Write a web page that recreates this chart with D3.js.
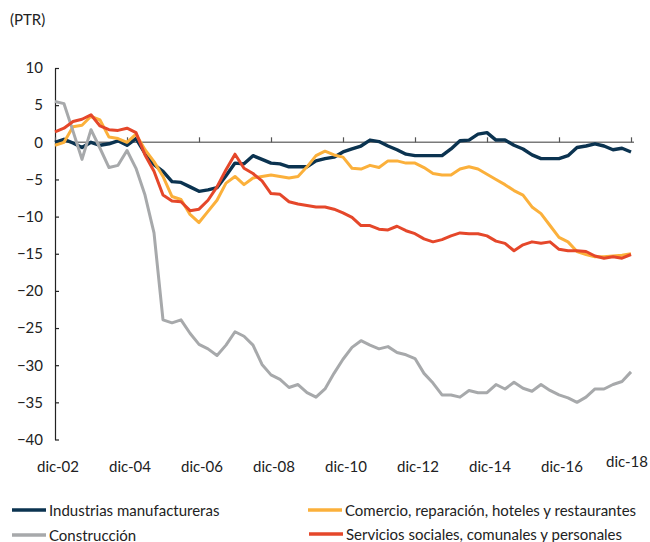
<!DOCTYPE html>
<html lang="es">
<head>
<meta charset="utf-8">
<script src="https://cdn.jsdelivr.net/npm/d3@7"></script>
<style>
  html, body { margin: 0; padding: 0; background: #fff; }
  svg { display: block; font-family: "Lato", "Open Sans", sans-serif; }
</style>
</head>
<body>
<svg id="chart" width="650" height="542"></svg>
<script>
// Quarterly series, dic-02 .. dic-18 (65 quarters)
const industrias = [0.0, 0.4, -0.1, -0.7, 0.0, -0.4, -0.2, 0.2, -0.4, 0.5,
  -1.5, -3.0, -3.9, -5.3, -5.4, -6.0, -6.6, -6.4, -6.1, -4.5,
  -2.8, -2.9, -1.8, -2.3, -2.8, -2.9, -3.3, -3.3, -3.3, -2.5,
  -2.2, -2.0, -1.3, -0.9, -0.5, 0.3, 0.1, -0.5, -1.0, -1.6,
  -1.8, -1.8, -1.8, -1.8, -0.9, 0.2, 0.3, 1.1, 1.3, 0.3,
  0.3, -0.4, -0.9, -1.7, -2.2, -2.2, -2.2, -1.8, -0.7, -0.5,
  -0.2, -0.5, -1.0, -0.8, -1.3];
const comercio = [-0.4, 0.0, 2.1, 2.3, 3.5, 3.0, 0.7, 0.5, 0.0, 1.1,
  -1.0, -2.6, -4.6, -7.3, -7.7, -9.7, -10.8, -9.3, -7.8, -5.5,
  -4.6, -5.7, -4.8, -4.6, -4.4, -4.6, -4.8, -4.6, -3.3, -1.8,
  -1.2, -1.7, -2.0, -3.5, -3.6, -3.1, -3.4, -2.5, -2.5, -2.8,
  -2.8, -3.4, -4.2, -4.4, -4.4, -3.6, -3.3, -3.6, -4.3, -5.0,
  -5.7, -6.5, -7.1, -8.7, -9.6, -11.2, -12.8, -13.4, -14.7, -15.1,
  -15.4, -15.4, -15.3, -15.2, -15.0];
const construccion = [5.5, 5.2, 1.5, -2.3, 1.7, -0.8, -3.4, -3.1, -1.1, -3.5,
  -7.1, -12.2, -23.9, -24.3, -23.9, -25.7, -27.2, -27.8, -28.7, -27.3,
  -25.5, -26.1, -27.3, -29.9, -31.3, -31.9, -33.0, -32.6, -33.7, -34.3,
  -33.2, -31.1, -29.2, -27.6, -26.7, -27.3, -27.8, -27.5, -28.3, -28.6,
  -29.1, -31.1, -32.4, -34.0, -34.0, -34.3, -33.4, -33.7, -33.7, -32.6,
  -33.2, -32.3, -33.1, -33.5, -32.6, -33.4, -34.0, -34.4, -35.0, -34.3,
  -33.2, -33.2, -32.6, -32.2, -30.9];
const servicios = [1.4, 1.9, 2.8, 3.1, 3.7, 2.2, 1.7, 1.6, 1.9, 1.3,
  -1.7, -3.9, -7.1, -7.9, -8.0, -9.2, -9.0, -7.8, -6.0, -3.7,
  -1.6, -3.5, -4.2, -5.2, -6.9, -7.0, -8.0, -8.3, -8.5, -8.7,
  -8.7, -9.0, -9.5, -10.1, -11.2, -11.2, -11.7, -11.8, -11.3, -11.9,
  -12.3, -13.0, -13.4, -13.1, -12.6, -12.2, -12.3, -12.3, -12.6, -13.3,
  -13.6, -14.6, -13.8, -13.4, -13.6, -13.4, -14.4, -14.6, -14.6, -14.7,
  -15.3, -15.6, -15.4, -15.6, -15.1];

const xLabels = ["dic-02", "dic-04", "dic-06", "dic-08", "dic-10", "dic-12", "dic-14", "dic-16", "dic-18"];
const yTicks = [10, 5, 0, -5, -10, -15, -20, -25, -30, -35, -40];
const unitLabel = "(PTR)";

const seriesList = [
  { name: "Industrias manufactureras", values: industrias, color: "#0b3350", width: 3.4 },
  { name: "Comercio, reparación, hoteles y restaurantes", values: comercio, color: "#fbb03b", width: 3 },
  { name: "Construcción", values: construccion, color: "#a7a9ab", width: 3 },
  { name: "Servicios sociales, comunales y personales", values: servicios, color: "#e5472a", width: 3 }
];

const FONT = 15;
const svg = d3.select("#chart");
const n = industrias.length;

const x = d3.scaleLinear().domain([0, n - 1]).range([55, 631]);
const y = d3.scaleLinear().domain([-40, 10]).range([439.5, 68]);

// Unit label
svg.append("text")
  .attr("x", 10).attr("y", 25)
  .attr("font-size", FONT).attr("fill", "#222")
  .text(unitLabel);

// Y axis with inside ticks
const yAxis = svg.append("g")
  .attr("transform", "translate(55,0)")
  .call(d3.axisLeft(y).tickValues(yTicks).tickSizeInner(-4).tickSizeOuter(0).tickPadding(12));
yAxis.select(".domain").attr("stroke", "#222").attr("stroke-width", 1.2);
yAxis.selectAll(".tick line").attr("stroke", "#222").attr("stroke-width", 1.2);
yAxis.selectAll("text").attr("font-size", FONT).attr("fill", "#222")
  .attr("font-family", "Lato, 'Open Sans', sans-serif");

// Zero line with category ticks every two years
const tickIdx = d3.range(0, n, 8);
const xAxis = svg.append("g")
  .attr("transform", `translate(0,${y(0)})`)
  .call(d3.axisBottom(x).tickValues(tickIdx).tickSizeInner(-5).tickSizeOuter(0).tickFormat(""));
xAxis.select(".domain").attr("stroke", "#7a7a7a").attr("stroke-width", 1.6)
  .attr("d", `M${x(0)},0H${x(n - 1) + 3}`);
xAxis.selectAll(".tick line").attr("stroke", "#555").attr("stroke-width", 1.2);

// Date labels along the bottom
const last = xLabels.length - 1;
svg.append("g").selectAll("text")
  .data(xLabels)
  .join("text")
  .attr("x", (d, i) => i === last ? x(tickIdx[i]) - 4 : x(tickIdx[i]) + 3)
  .attr("y", (d, i) => i === last ? 467 : 472)
  .attr("text-anchor", "middle")
  .attr("font-size", FONT).attr("fill", "#222")
  .text(d => d);

// Series lines
const line = d3.line()
  .x((d, i) => x(i))
  .y(d => y(d))
  .curve(d3.curveLinear);

svg.append("g").selectAll("path")
  .data(seriesList)
  .join("path")
  .attr("fill", "none")
  .attr("stroke", d => d.color)
  .attr("stroke-width", d => d.width)
  .attr("stroke-linejoin", "round")
  .attr("d", d => line(d.values));

// Legend in two columns
const legendPos = [
  { lx: 12, ly: 510, ty: 516 },
  { lx: 308, ly: 510, ty: 516 },
  { lx: 12, ly: 535, ty: 540.5 },
  { lx: 309, ly: 534, ty: 540 }
];
const legend = svg.append("g").selectAll("g")
  .data(seriesList)
  .join("g");
legend.append("line")
  .attr("x1", (d, i) => legendPos[i].lx)
  .attr("x2", (d, i) => legendPos[i].lx + 34)
  .attr("y1", (d, i) => legendPos[i].ly)
  .attr("y2", (d, i) => legendPos[i].ly)
  .attr("stroke", d => d.color)
  .attr("stroke-width", 3.4);
legend.append("text")
  .attr("x", (d, i) => legendPos[i].lx + 37)
  .attr("y", (d, i) => legendPos[i].ty)
  .attr("font-size", FONT).attr("fill", "#222")
  .text(d => d.name);
</script>
</body>
</html>
